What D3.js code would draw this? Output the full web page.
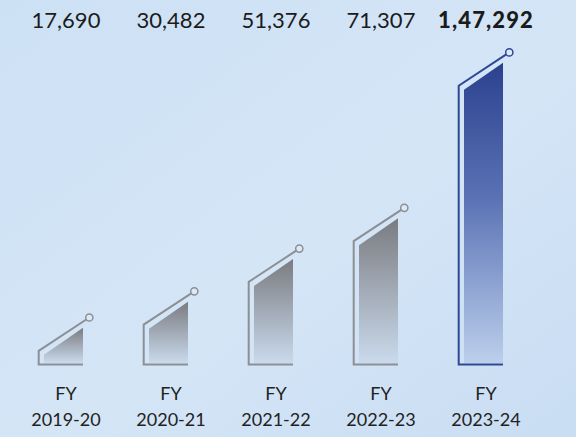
<!DOCTYPE html>
<html>
<head>
<meta charset="utf-8">
<script src="https://cdn.jsdelivr.net/npm/d3@7"></script>
<style>
  html, body { margin: 0; padding: 0; }
  body { width: 576px; height: 437px; overflow: hidden; }
  svg { display: block; }
</style>
</head>
<body>
<svg id="chart" width="576" height="437"></svg>
<script>
// ---- data ----
const categories = ["2019-20", "2020-21", "2021-22", "2022-23", "2023-24"];
const values = [17690, 30482, 51376, 71307, 147292];
const valueLabels = ["17,690", "30,482", "51,376", "71,307", "1,47,292"];
const prefixLabel = "FY";
const highlightIndex = 4;

// ---- layout ----
const W = 576, H = 437;
const svg = d3.select("#chart");
const defs = svg.append("defs");

// background
const bg = defs.append("linearGradient").attr("id", "bg")
  .attr("x1", 0).attr("y1", 0).attr("x2", 1).attr("y2", 1);
bg.append("stop").attr("offset", "0%").attr("stop-color", "#cde1f5");
bg.append("stop").attr("offset", "55%").attr("stop-color", "#d4e5f6");
bg.append("stop").attr("offset", "100%").attr("stop-color", "#c9ddf3");
svg.append("rect").attr("width", W).attr("height", H).attr("fill", "url(#bg)");

const gGrey = defs.append("linearGradient").attr("id", "gGrey")
  .attr("x1", 0).attr("y1", 0).attr("x2", 0).attr("y2", 1);
gGrey.append("stop").attr("offset", "0%").attr("stop-color", "#7a7b80");
gGrey.append("stop").attr("offset", "100%").attr("stop-color", "#cadaec");

const gBlue = defs.append("linearGradient").attr("id", "gBlue")
  .attr("x1", 0).attr("y1", 0).attr("x2", 0).attr("y2", 1);
gBlue.append("stop").attr("offset", "0%").attr("stop-color", "#2b418f");
gBlue.append("stop").attr("offset", "45%").attr("stop-color", "#5a72b4");
gBlue.append("stop").attr("offset", "100%").attr("stop-color", "#bccfec");

const x = d3.scalePoint().domain(categories).range([66, 486]);
const baseY = 364;
const y = d3.scaleLinear().domain([0, d3.max(values)]).range([baseY, 62.7]);

const data = categories.map((c, i) => ({ cat: c, value: values[i], label: valueLabels[i], hi: i === highlightIndex }));

const g = svg.append("g");
const bars = g.selectAll("g.bar").data(data).join("g").attr("class", "bar");

// filled slanted bar
bars.append("path")
  .attr("d", d => {
    const c = x(d.cat), t = y(d.value);
    return `M${c - 22},${baseY - 1} L${c - 22},${t + 27} L${c + 17},${t} L${c + 17},${baseY - 1} Z`;
  })
  .attr("fill", d => d.hi ? "url(#gBlue)" : "url(#gGrey)");

// outline
bars.append("path")
  .attr("d", d => {
    const c = x(d.cat), t = y(d.value);
    return `M${c + 17},${baseY + 0.5} L${c - 27.3},${baseY + 0.5} L${c - 27.3},${t + 23} L${c + 23.3},${t - 10.3}`;
  })
  .attr("fill", "none")
  .attr("stroke", d => d.hi ? "#2e4896" : "#8c8f94")
  .attr("stroke-width", 2)
  .attr("stroke-linejoin", "miter");

// end circle
bars.append("circle")
  .attr("cx", d => x(d.cat) + 23.3)
  .attr("cy", d => y(d.value) - 10.3)
  .attr("r", 3.6)
  .attr("fill", "#dbe9f7")
  .attr("stroke", d => d.hi ? "#2e4896" : "#8c8f94")
  .attr("stroke-width", 1.5);

// value labels on top
g.selectAll("text.val").data(data).join("text")
  .attr("class", "val")
  .attr("x", d => x(d.cat))
  .attr("y", 28)
  .attr("text-anchor", "middle")
  .attr("font-family", "Lato, 'Noto Sans', sans-serif")
  .attr("font-size", 22)
  .attr("font-weight", d => d.hi ? 900 : 400)
  .attr("letter-spacing", d => d.hi ? 1.1 : 0)
  .attr("fill", "#1b1b1b")
  .text(d => d.label);

// category labels
const lab = g.selectAll("text.cat").data(data).join("text")
  .attr("class", "cat")
  .attr("text-anchor", "middle")
  .attr("font-family", "Lato, 'Noto Sans', sans-serif")
  .attr("font-size", 18)
  .attr("fill", "#222");
lab.append("tspan").attr("x", d => x(d.cat)).attr("y", 400).text(prefixLabel);
lab.append("tspan").attr("x", d => x(d.cat)).attr("y", 425.7).text(d => d.cat);
</script>
</body>
</html>
